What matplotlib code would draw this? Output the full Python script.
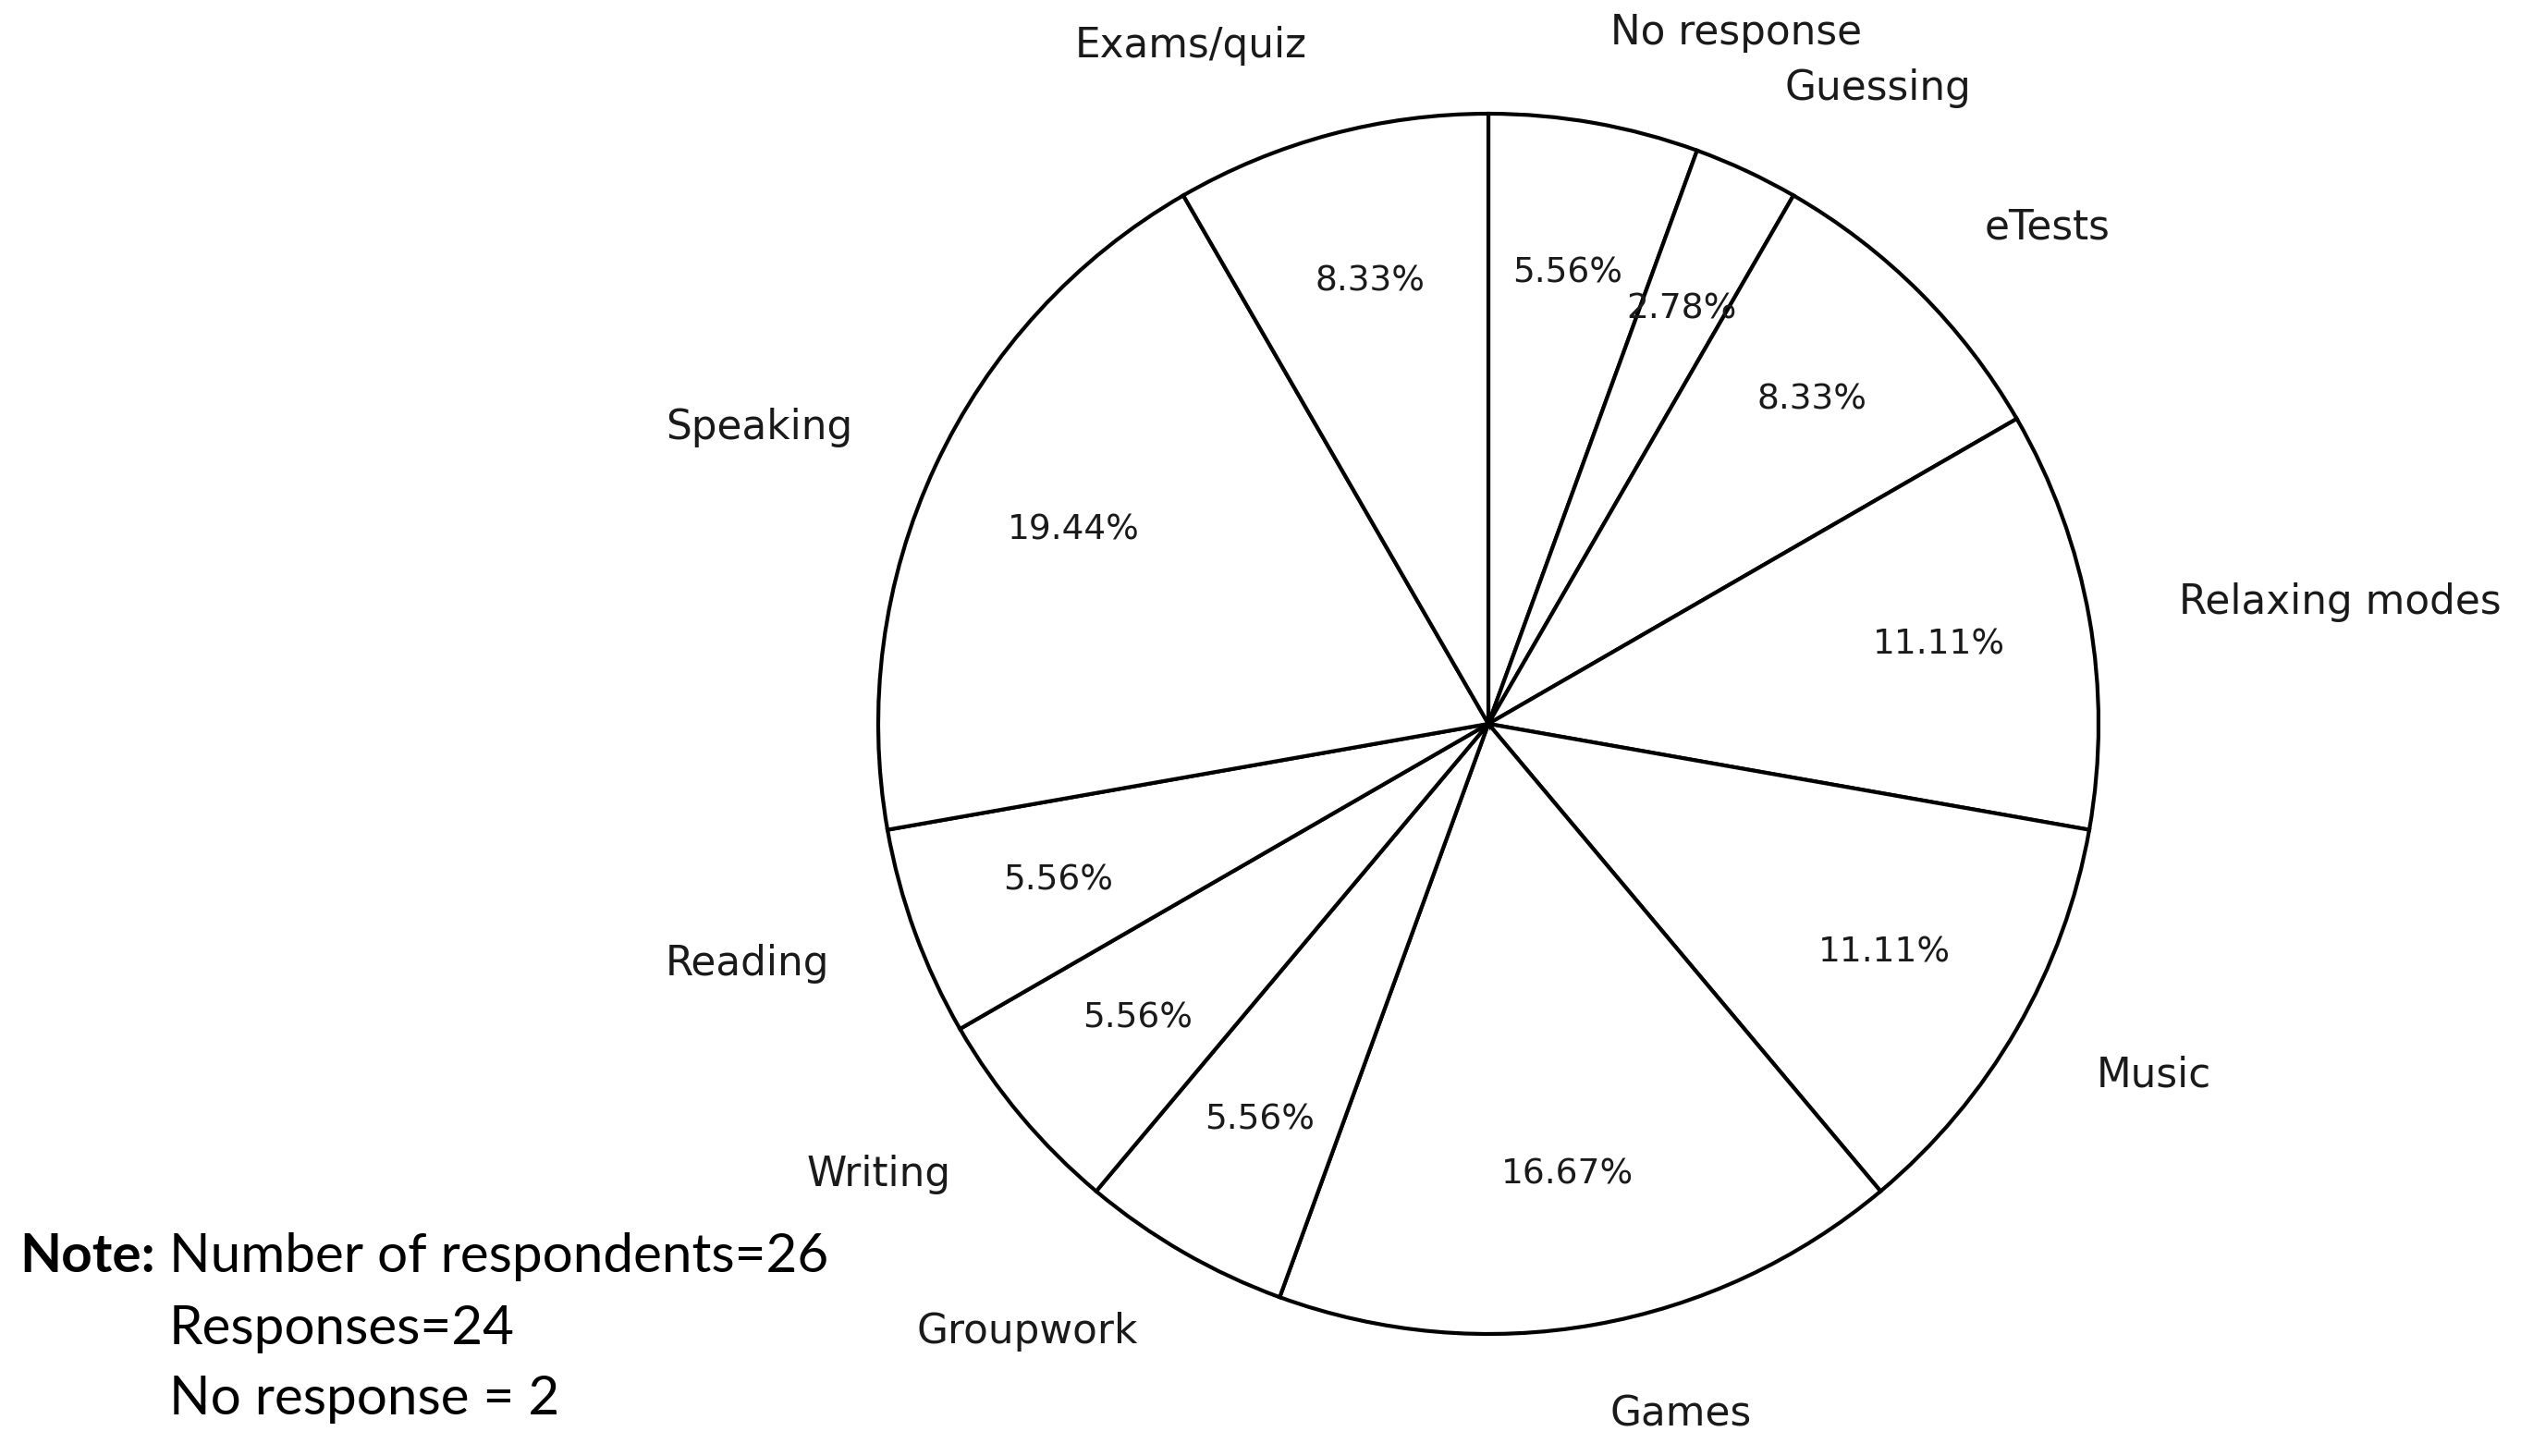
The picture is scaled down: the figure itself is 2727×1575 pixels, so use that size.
import matplotlib
matplotlib.use("Agg")
import matplotlib.pyplot as plt

# pie data (counts out of 36 responses), clockwise from the top
labels = ['No response', 'Guessing', 'eTests', 'Relaxing modes', 'Music', 'Games',
          'Groupwork', 'Writing', 'Reading', 'Speaking', 'Exams/quiz']
counts = [2, 1, 3, 4, 4, 6, 2, 2, 2, 7, 3]

note_head = 'Note:'
note_lines = ['Number of respondents=26', 'Responses=24', 'No response = 2']

W, H = 2727, 1575
fig = plt.figure(figsize=(W / 100, H / 100), dpi=100)

# pie centre (1610, 783) px, radius 660 px; pie axes span +-1.25
cx, cy, r = 1610, 783, 660
half = 1.25 * r
ax = fig.add_axes([(cx - half) / W, (H - cy - half) / H, 2 * half / W, 2 * half / H])

wedges, texts, autotexts = ax.pie(
    counts, labels=labels, autopct='%1.2f%%', startangle=90, counterclock=False,
    labeldistance=1.15, pctdistance=0.75,
    colors=['white'] * len(counts),
    wedgeprops={'edgecolor': 'black', 'linewidth': 3},
    textprops={'fontsize': 31.5, 'color': '#1a1a1a'})
for t in autotexts:
    t.set_fontsize(27)
ax.set_aspect('equal')

# note block, bottom left
fig.text(21 / W, 1 - 1360 / H, note_head, fontsize=42, fontweight='bold',
         family='Lato', va='center', ha='left')
for i, line in enumerate(note_lines):
    fig.text(183 / W, 1 - (1360 + 77 * i) / H, line, fontsize=42,
             family='Lato', va='center', ha='left')

fig.savefig('out.png', dpi=100, facecolor='white')
